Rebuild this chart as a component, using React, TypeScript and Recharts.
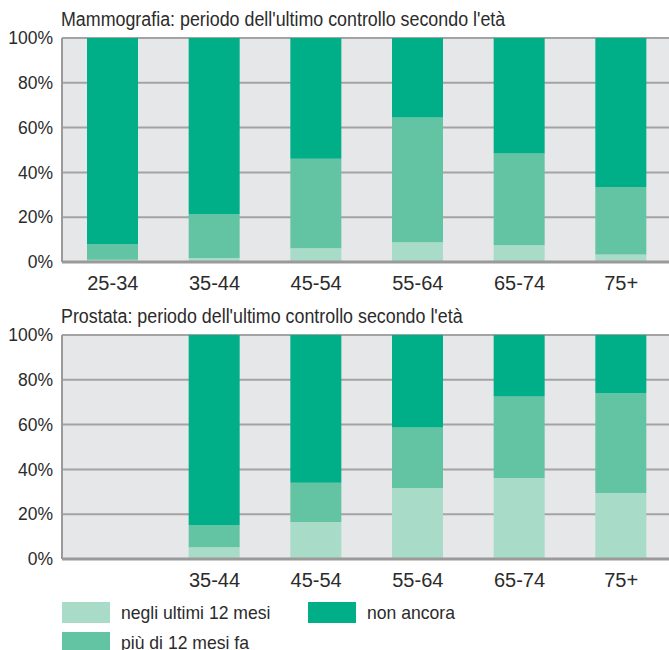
import React from "react";
import { Bar, BarChart, CartesianGrid, XAxis, YAxis } from "recharts";

const ageGroups = ["25-34", "35-44", "45-54", "55-64", "65-74", "75+"];

// Mammografia (%)
const mammoRecent = [1, 1.8, 6.1, 8.8, 7.5, 3.4];
const mammoOlder = [6.9, 19.6, 40, 55.7, 40.9, 30.1];
const mammoNever = [92.1, 78.6, 53.9, 35.5, 51.6, 66.5];

// Prostata (%), nessun dato per 25-34
const prostRecent = [null, 5.2, 16.5, 31.7, 36.2, 29.5];
const prostOlder = [null, 9.9, 17.5, 27, 36.4, 44.5];
const prostNever = [null, 84.9, 66, 41.3, 27.4, 26];

const yTicks = [0, 20, 40, 60, 80, 100];

const seriesNames = ["negli ultimi 12 mesi", "più di 12 mesi fa", "non ancora"];
const seriesColors = ["#a8dcc8", "#62c4a3", "#00ae87"];

const FONT = '"Liberation Sans", Arial, sans-serif';
const TEXT = "#2b2b2b";

function buildRows(recent: (number | null)[], older: (number | null)[], never: (number | null)[]) {
    return ageGroups.map((age, i) => ({
        age,
        recent: recent[i],
        older: older[i],
        never: never[i],
    }));
}

const mammoData = buildRows(mammoRecent, mammoOlder, mammoNever);
const prostData = buildRows(prostRecent, prostOlder, prostNever);

function Panel({ title, data, top }: { title: string; data: any[]; top: number }) {
    return (
        <div style={{ position: "absolute", left: 0, top, width: 672, height: 297 }}>
            <div
                style={{
                    position: "absolute",
                    left: 61,
                    top: 10,
                    fontFamily: FONT,
                    fontSize: 19.5,
                    lineHeight: "19px",
                    color: TEXT,
                    whiteSpace: "nowrap",
                    transform: "scaleX(0.915)",
                    transformOrigin: "left top",
                }}
            >
                {title}
            </div>
            <BarChart
                width={672}
                height={297}
                data={data}
                margin={{ top: 38, right: 0, bottom: 0, left: 0 }}
                barSize={51}
            >
                <CartesianGrid vertical={false} fill="#e6e7e9" stroke="#a3a3a3" strokeWidth={2} />
                <XAxis
                    dataKey="age"
                    height={35}
                    tickLine={false}
                    tickSize={0}
                    tickMargin={14}
                    axisLine={{ stroke: "#9a9a9a", strokeWidth: 3 }}
                    tick={{ fill: TEXT, fontSize: 20, fontFamily: FONT }}
                    tickFormatter={(v: string, i: number) => (data[i] && data[i].recent == null ? "" : v)}
                />
                <YAxis
                    width={62}
                    domain={[0, 100]}
                    ticks={yTicks}
                    tickLine={false}
                    tickSize={0}
                    tickMargin={9}
                    axisLine={{ stroke: "#9a9a9a", strokeWidth: 2 }}
                    tick={{ fill: TEXT, fontSize: 17.5, fontFamily: FONT }}
                    tickFormatter={(v: number) => v + "%"}
                />
                <Bar dataKey="recent" stackId="a" fill={seriesColors[0]} isAnimationActive={false} />
                <Bar dataKey="older" stackId="a" fill={seriesColors[1]} isAnimationActive={false} />
                <Bar dataKey="never" stackId="a" fill={seriesColors[2]} isAnimationActive={false} />
            </BarChart>
        </div>
    );
}

const legendSlots = [
    { idx: 0, x: 62, y: 602 },
    { idx: 2, x: 308, y: 602 },
    { idx: 1, x: 62, y: 632 },
];

export default function App() {
    return (
        <div style={{ position: "absolute", left: 0, top: 0, width: 669, height: 650, overflow: "hidden", background: "#fff" }}>
            <Panel title="Mammografia: periodo dell'ultimo controllo secondo l'età" data={mammoData} top={0} />
            <Panel title="Prostata: periodo dell'ultimo controllo secondo l'età" data={prostData} top={297} />
            {legendSlots.map((s) => (
                <div key={s.idx} style={{ position: "absolute", left: s.x, top: s.y, height: 21, display: "flex", alignItems: "center" }}>
                    <div style={{ width: 48, height: 21, background: seriesColors[s.idx] }} />
                    <span
                        style={{
                            marginLeft: 11,
                            fontFamily: FONT,
                            fontSize: 18.5,
                            lineHeight: "21px",
                            color: TEXT,
                            whiteSpace: "nowrap",
                            display: "inline-block",
                            transform: "scaleX(0.95)",
                            transformOrigin: "left center",
                        }}
                    >
                        {seriesNames[s.idx]}
                    </span>
                </div>
            ))}
        </div>
    );
}
